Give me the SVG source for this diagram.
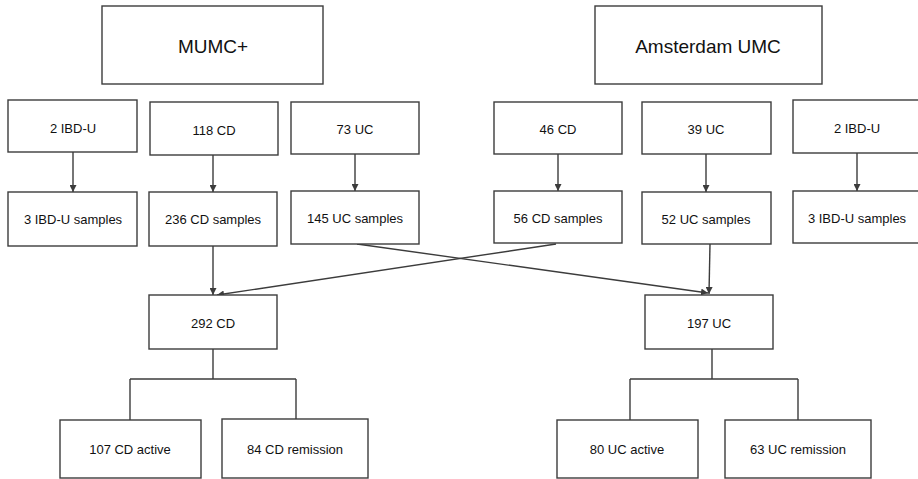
<svg xmlns="http://www.w3.org/2000/svg" width="918" height="479" viewBox="0 0 918 479">
<style>
rect{fill:#fff;stroke:#3c3c3c;stroke-width:1.4}
text{font-family:"Liberation Sans",Arial,sans-serif;font-size:13px;fill:#111;text-anchor:middle;dominant-baseline:central}
text.big{font-size:19px}
.c line,.c path{stroke:#3c3c3c;stroke-width:1.4;fill:none}
</style>
<defs>
<marker id="ah" viewBox="0 0 10 10" refX="10" refY="5" markerWidth="7" markerHeight="7" markerUnits="userSpaceOnUse" orient="auto">
<path d="M0,0 L10,5 L0,10 z" fill="#3c3c3c"/>
</marker>
</defs>
<rect width="918" height="479" style="fill:#fff;stroke:none"/>
<g class="c">
<line x1="73" y1="152" x2="73" y2="192" marker-end="url(#ah)"/>
<line x1="213" y1="155" x2="213" y2="192" marker-end="url(#ah)"/>
<line x1="355" y1="154" x2="355" y2="191" marker-end="url(#ah)"/>
<line x1="558" y1="154" x2="558" y2="191" marker-end="url(#ah)"/>
<line x1="706" y1="154" x2="706" y2="192" marker-end="url(#ah)"/>
<line x1="857" y1="153" x2="857" y2="191" marker-end="url(#ah)"/>
<line x1="213" y1="246" x2="213" y2="295" marker-end="url(#ah)"/>
<line x1="556" y1="244" x2="217" y2="295" marker-end="url(#ah)"/>
<line x1="357" y1="244" x2="708" y2="293" marker-end="url(#ah)"/>
<line x1="710" y1="244" x2="709" y2="294" marker-end="url(#ah)"/>
<path d="M213,349 V379 M130,379 H296 M130,379 V420 M296,379 V419"/>
<path d="M712,349 V379 M630,379 H798 M630,379 V420 M798,379 V420"/>
</g>
<g id="mumc"><rect x="102" y="6" width="221" height="78"/><text class="big" x="213" y="46">MUMC+</text></g>
<g id="amsterdam"><rect x="595" y="6" width="227" height="78"/><text class="big" x="708" y="46">Amsterdam UMC</text></g>
<g id="m-ibdu"><rect x="8" y="100" width="129" height="52"/><text x="73" y="128">2 IBD-U</text></g>
<g id="m-cd"><rect x="150" y="102" width="128" height="53"/><text x="214" y="130">118 CD</text></g>
<g id="m-uc"><rect x="291" y="102" width="128" height="52"/><text x="355" y="129">73 UC</text></g>
<g id="a-cd"><rect x="494" y="102" width="128" height="52"/><text x="558" y="129">46 CD</text></g>
<g id="a-uc"><rect x="642" y="102" width="129" height="52"/><text x="706" y="129">39 UC</text></g>
<g id="a-ibdu"><rect x="793" y="100" width="128" height="53"/><text x="857" y="128">2 IBD-U</text></g>
<g id="m-ibdu-s"><rect x="8" y="192" width="129" height="54"/><text x="73" y="219">3 IBD-U samples</text></g>
<g id="m-cd-s"><rect x="149" y="192" width="128" height="54"/><text x="213" y="219">236 CD samples</text></g>
<g id="m-uc-s"><rect x="291" y="191" width="128" height="53"/><text x="355" y="218">145 UC samples</text></g>
<g id="a-cd-s"><rect x="494" y="191" width="128" height="52"/><text x="558" y="218">56 CD samples</text></g>
<g id="a-uc-s"><rect x="642" y="192" width="129" height="52"/><text x="706" y="219">52 UC samples</text></g>
<g id="a-ibdu-s"><rect x="793" y="191" width="128" height="52"/><text x="857" y="218">3 IBD-U samples</text></g>
<g id="cd"><rect x="149" y="295" width="128" height="54"/><text x="213" y="323">292 CD</text></g>
<g id="uc"><rect x="645" y="295" width="128" height="54"/><text x="709" y="323">197 UC</text></g>
<g id="cd-active"><rect x="60" y="420" width="141" height="58"/><text x="130" y="449">107 CD active</text></g>
<g id="cd-rem"><rect x="222" y="419" width="146" height="59"/><text x="295" y="449">84 CD remission</text></g>
<g id="uc-active"><rect x="557" y="420" width="141" height="58"/><text x="627" y="449">80 UC active</text></g>
<g id="uc-rem"><rect x="725" y="420" width="146" height="58"/><text x="798" y="449">63 UC remission</text></g>
</svg>
